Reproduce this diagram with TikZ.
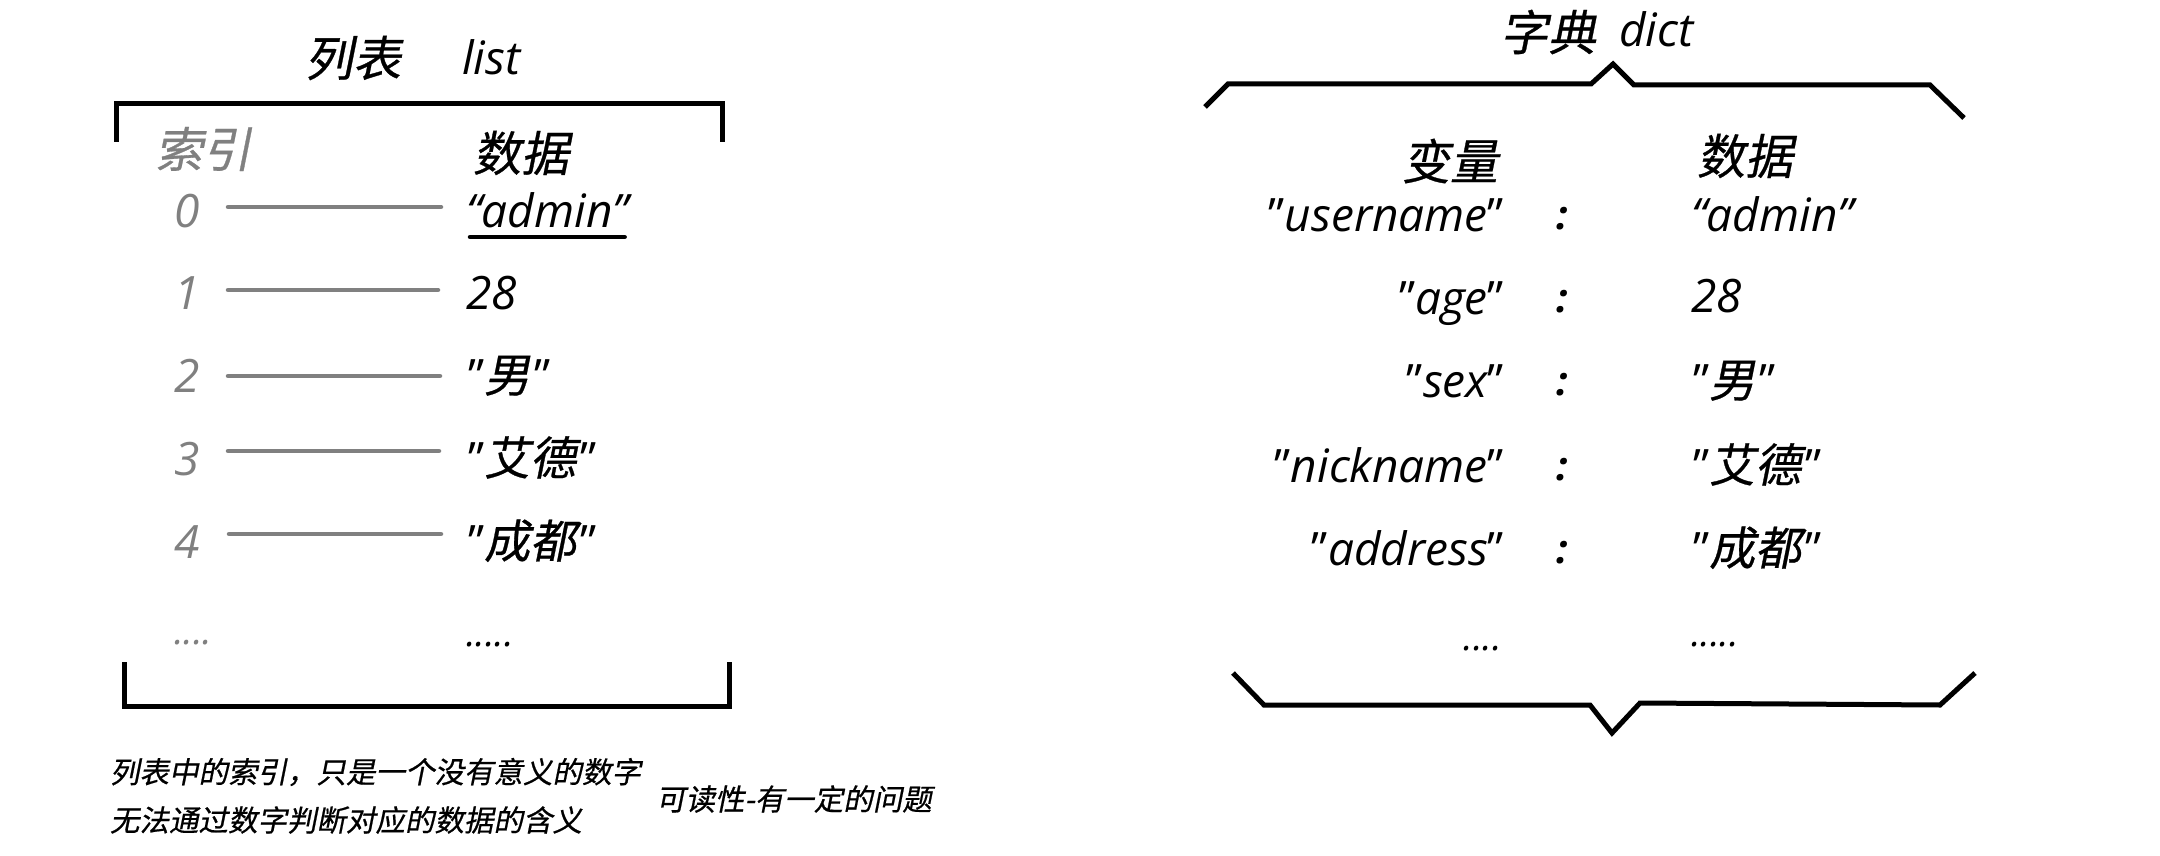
\documentclass[tikz,border=0pt]{standalone}
\usepackage{fontspec}
\setmainfont{Open Sans}
\newfontfamily\cjk[FakeSlant=0.2,FakeBold=0.6]{Noto Sans CJK SC}
\newcommand\zh[1]{{\cjk #1}}
\newcommand\qq{{\upshape"}}
\newcommand\zq[1]{\qq\zh{#1}\kern4pt\qq}
\definecolor{greyt}{HTML}{808080}
\begin{document}
\begin{tikzpicture}[x=1pt,y=-1pt,
  every node/.style={inner sep=0pt, outer sep=0pt},
  latin/.style={font=\fontsize{46}{52}\selectfont\itshape},
  dotsty/.style={font=\fontsize{38}{44}\selectfont\itshape},
  head/.style={font=\fontsize{48}{54}\selectfont\cjk},
  colonsty/.style={font=\fontsize{40}{46}\selectfont\bfseries\itshape, anchor=base},
  conn/.style={draw=greyt, line width=4.5pt, line cap=round},
  brk/.style={draw=black, line width=5pt},
  note/.style={font=\fontsize{29.5}{34}\selectfont\cjk, anchor=west},
]
\useasboundingbox (0,0) rectangle (2160,856);

% ---------------- list ----------------
\node[head] (ltitle) at (353,58) {列表};
\node[latin, anchor=base west] (ltitlelat) at (462,75) {list};
\draw[brk] (116.5,142) -- (116.5,103.5) -- (722.5,103.5) -- (722.5,142);
\draw[brk] (124,662) -- (124,706) -- (729,706) -- (729,662);

\node[head, text=greyt] (idxhead) at (203,149) {索引};
\node[head] (dathead) at (521,153) {数据};

\node[latin, text=greyt, anchor=base west] (idx0) at (174,227) {0};
\node[latin, text=greyt, anchor=base west] (idx1) at (174,309) {1};
\node[latin, text=greyt, anchor=base west] (idx2) at (174,392) {2};
\node[latin, text=greyt, anchor=base west] (idx3) at (174,475) {3};
\node[latin, text=greyt, anchor=base west] (idx4) at (174,558) {4};
\node[dotsty, text=greyt, anchor=base west] (idxd) at (174,644) {....};

\node[latin, anchor=base west] (dat0) at (466,227) {“admin”};
\node[latin, anchor=base west] (dat1) at (466,309) {28};
\node[latin, anchor=base west] (dat2) at (468,392) {\zq{男}};
\node[latin, anchor=base west] (dat3) at (468,475) {\zq{艾德}};
\node[latin, anchor=base west] (dat4) at (468,558) {\zq{成都}};
\node[dotsty, anchor=base west] (datd) at (466,646) {.....};

\draw[line width=4.5pt, line cap=round] ([xshift=4pt,yshift=-10pt]dat0.base west) -- ([xshift=-4pt,yshift=-10pt]dat0.base east);

\coordinate (l0a) at (228,207); \coordinate (l0b) at (441,207);
\coordinate (l1a) at (228,290); \coordinate (l1b) at (438,290);
\coordinate (l2a) at (228,376); \coordinate (l2b) at (440,376);
\coordinate (l3a) at (228,451); \coordinate (l3b) at (439,451);
\coordinate (l4a) at (229,534); \coordinate (l4b) at (441,534);
\draw[conn] (l0a) -- (l0b);
\draw[conn] (l1a) -- (l1b);
\draw[conn] (l2a) -- (l2b);
\draw[conn] (l3a) -- (l3b);
\draw[conn] (l4a) -- (l4b);

\node[note] (n1) at (110,772) {列表中的索引，只是一个没有意义的数字};
\node[note] (n2) at (110,820) {无法通过数字判断对应的数据的含义};
\node[note] (n3) at (656,799) {可读性-有一定的问题};

% ---------------- dict ----------------
\node[head] (dtitle) at (1548,32) {字典};
\node[latin, anchor=base west] (dtitlelat) at (1619,47) {dict};
\draw[brk, line join=miter] (1205,107) -- (1228,84) -- (1591,84) -- (1613,64) -- (1634,85) -- (1930,85) -- (1964,118);
\draw[brk, line join=miter] (1233,673) -- (1264,705) -- (1590,705) -- (1612,733) -- (1640,703) -- (1940,705) -- (1975,673);

\node[head] (keyhead) at (1450,161) {变量};
\node[head] (valhead) at (1745,156) {数据};

\node[latin, anchor=base east] (k0) at (1504,231) {\qq username\qq};
\node[latin, anchor=base east] (k1) at (1504,314) {\qq age\qq};
\node[latin, anchor=base east] (k2) at (1504,397) {\qq sex\qq};
\node[latin, anchor=base east] (k3) at (1504,482) {\qq nickname\qq};
\node[latin, anchor=base east] (k4) at (1504,565) {\qq address\qq};
\node[dotsty, anchor=base east] (kd) at (1502,650) {....};

\node[colonsty] (c0) at (1562,229) {:};
\node[colonsty] (c1) at (1562,312) {:};
\node[colonsty] (c2) at (1562,395) {:};
\node[colonsty] (c3) at (1562,480) {:};
\node[colonsty] (c4) at (1562,563) {:};

\node[latin, anchor=base west] (v0) at (1691,231) {“admin”};
\node[latin, anchor=base west] (v1) at (1691,312) {28};
\node[latin, anchor=base west] (v2) at (1693,397) {\zq{男}};
\node[latin, anchor=base west] (v3) at (1693,482) {\zq{艾德}};
\node[latin, anchor=base west] (v4) at (1693,565) {\zq{成都}};
\node[dotsty, anchor=base west] (vd) at (1691,646) {.....};
\end{tikzpicture}
\end{document}
